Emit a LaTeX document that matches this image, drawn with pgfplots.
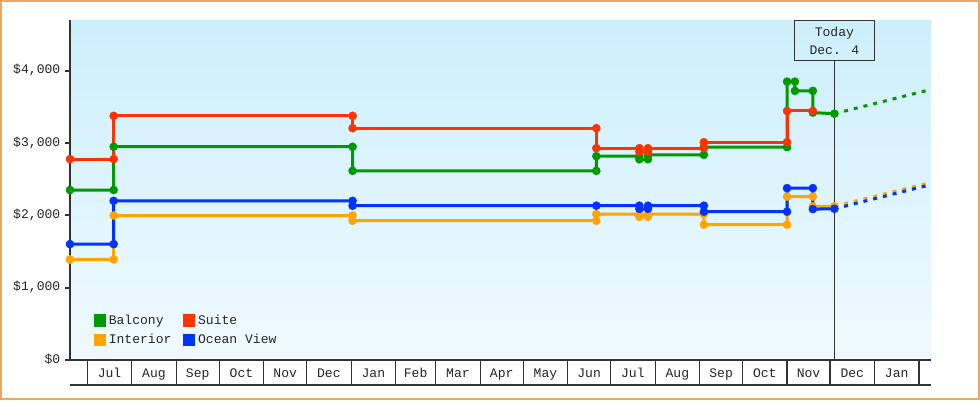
\documentclass[border=0pt]{standalone}
\usepackage{pgfplots}
\pgfplotsset{compat=1.18}
\usepackage{fontspec}
\setmainfont{Liberation Mono}
\definecolor{cgreen}{RGB}{0,153,0}
\definecolor{cred}{RGB}{255,51,0}
\definecolor{corange}{RGB}{255,165,0}
\definecolor{cblue}{RGB}{0,51,255}
\definecolor{cborder}{RGB}{232,168,100}
\definecolor{bgtop}{RGB}{204,239,252}
\definecolor{bgbot}{RGB}{240,250,255}
\definecolor{axisgray}{RGB}{51,51,51}
\begin{document}
\begin{tikzpicture}[font=\fontsize{9.8}{12}\selectfont]
\useasboundingbox (0,0) rectangle (735pt,300pt);
\fill[white] (0,0) rectangle (735pt,300pt);
\draw[cborder, line width=1.2pt] (0.6pt,0.6pt) rectangle (734.4pt,299.4pt);
\begin{axis}[
  at={(52.5pt,30pt)}, anchor=south west,
  scale only axis, width=645.75pt, height=255pt,
  xmin=-12.06, xmax=588.4, ymin=0, ymax=4700,
  axis lines*=left,
  axis background/.style={top color=bgtop, bottom color=bgbot},
  y axis line style={axisgray, line width=1.5pt},
  x axis line style={axisgray, line width=0.9pt},
  ytick={0,1000,2000,3000,4000},
  yticklabels={{\$0},{\$1,000},{\$2,000},{\$3,000},{\$4,000}},
  ytick style={axisgray, line width=1.5pt},
  tick align=outside, major tick length=3.75pt,
  xtick={15.5,46.5,77,107.5,138,168.5,199.5,229,258.5,289,319.5,350,380.5,411.5,442,472.5,503,533.5,564.5},
  xticklabels={Jul,Aug,Sep,Oct,Nov,Dec,Jan,Feb,Mar,Apr,May,Jun,Jul,Aug,Sep,Oct,Nov,Dec,Jan},
  xtick style={draw=none},
  typeset ticklabels with strut,
  xticklabel style={anchor=center, yshift=-6.9pt},
  ticklabel style={text=black!85},
  clip=false,
  legend columns=2,
  legend cell align=left,
  legend style={draw=none, fill=none, at={(axis description cs:0.027,0.141)}, anchor=north west, inner sep=0pt, row sep=2pt, text=black!85,
    /tikz/every even column/.append style={column sep=6.5pt}},
  legend image code/.code={\fill[#1] (0pt,-3.6pt) rectangle (7.2pt,3.6pt);},
]
\addlegendimage{cgreen}\addlegendentry{Balcony}
\addlegendimage{cred}\addlegendentry{Suite}
\addlegendimage{corange}\addlegendentry{Interior}
\addlegendimage{cblue}\addlegendentry{Ocean View}

\pgfplotsinvokeforeach{0,31,62,92,123,153,184,215,243,274,304,335,365,396,427,457,488,518,549,580}{
  \draw[axisgray, line width=0.9pt] (axis cs:#1,0) -- ([yshift=-18.75pt]axis cs:#1,0);
}
\draw[axisgray, line width=0.9pt] ([yshift=-18.75pt]rel axis cs:0,0) -- ([yshift=-18.75pt]rel axis cs:1,0);

\node[draw=axisgray, line width=0.75pt, anchor=north, minimum width=60pt, minimum height=30pt, align=center, text=black!85, font=\fontsize{9.8}{13.5}\selectfont] (today) at (axis cs:521,4700) {Today\\Dec. 4};
\draw[axisgray, line width=0.75pt] (axis cs:521,0) -- (today.south);

\pgfplotsset{every axis plot/.append style={line width=2.25pt, mark=*, mark size=3pt, mark options={line width=0.4pt, solid}}}

% Balcony
\addplot[cgreen, forget plot] coordinates {(-12.06,2350) (18.4,2350) (18.4,2948) (185,2948) (185,2615) (355,2615) (355,2818) (385,2818) (385,2775) (391,2775) (391,2836) (430,2836) (430,2942) (488,2942) (488,3848) (493.5,3848) (493.5,3720) (506,3720) (506,3420) (521,3405)};
% Interior
\addplot[corange, forget plot] coordinates {(-12.06,1390) (18.4,1390) (18.4,1997) (185,1997) (185,1925) (355,1925) (355,2017) (385,2017) (385,1980) (391,1980) (391,2017) (430,2017) (430,1870) (488,1870) (488,2260) (506,2260) (506,2122) (521,2125)};
% Ocean View
\addplot[cblue, forget plot] coordinates {(-12.06,1602) (18.4,1602) (18.4,2200) (185,2200) (185,2133) (355,2133) (385,2133) (385,2090) (391,2090) (391,2133) (430,2133) (430,2050) (488,2050) (488,2376) (506,2376) (506,2086) (521,2090)};
% Suite
\addplot[cred, forget plot] coordinates {(-12.06,2778) (18.4,2778) (18.4,3375) (185,3375) (185,3205) (355,3205) (355,2928) (385,2928) (385,2880) (391,2880) (391,2928) (430,2928) (430,3011) (488,3011) (488,3443) (506,3443)};

% projections
\addplot[cgreen, mark=none, dash pattern=on 3pt off 4.5pt, forget plot] coordinates {(521,3405) (588.4,3740)};
\addplot[corange, mark=none, dash pattern=on 3pt off 4.5pt, forget plot] coordinates {(521,2125) (588.4,2455)};
\addplot[cblue, mark=none, dash pattern=on 3pt off 4.5pt, forget plot] coordinates {(521,2090) (588.4,2425)};
\end{axis}
\end{tikzpicture}
\end{document}
